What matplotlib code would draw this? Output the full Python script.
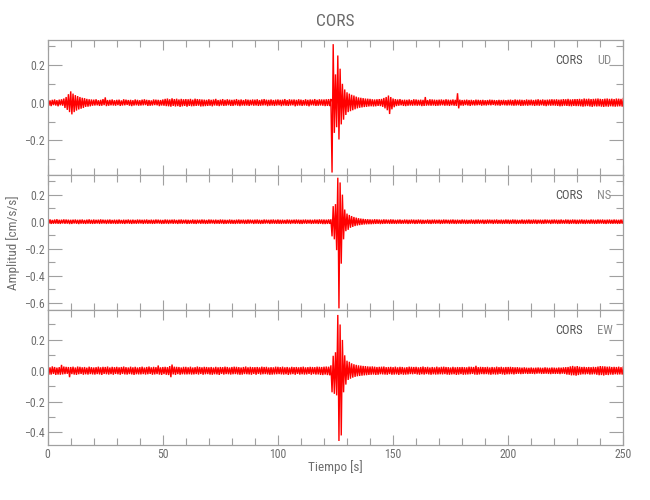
import numpy as np
import matplotlib
matplotlib.use("Agg")
import matplotlib.pyplot as plt
from matplotlib.ticker import MultipleLocator, FuncFormatter

plt.rcParams['font.family'] = ['Roboto Condensed', 'Roboto', 'DejaVu Sans']

station = "CORS"
components = ["UD", "NS", "EW"]
dt = 0.5
scale = 0.001  # values below are in 1e-3 cm/s/s

ud = [
 14,-16,12,-18,15,-13,17,-15,13,-19,16,-14,18,-16,22,-28,30,-38,45,-50,
 60,-62,48,-50,40,-42,35,-36,30,-32,26,-28,24,-22,20,-21,18,-19,17,-16,
 16,-15,18,-14,13,-17,15,-16,19,-13,28,-18,14,-16,15,-14,17,-15,13,-16,
 15,-13,16,-17,12,-15,18,-14,16,-12,14,-16,15,-18,13,-15,17,-14,15,-16,
 13,-15,16,-14,18,-13,15,-17,14,-16,12,-15,17,-13,16,-14,15,-18,14,-15,
 17,-16,20,-18,22,-19,18,-21,23,-17,19,-20,21,-18,17,-22,20,-19,18,-17,
 19,-21,18,-17,20,-19,16,-18,21,-17,19,-16,18,-20,17,-19,16,-18,15,-17,
 18,-16,15,-19,17,-15,20,-16,14,-18,16,-15,19,-17,15,-16,18,-14,16,-17,
 15,-17,16,-14,19,-16,15,-18,17,-15,14,-16,18,-15,16,-17,15,-14,17,-16,
 16,-15,18,-17,14,-16,17,-15,19,-14,16,-18,15,-16,17,-15,14,-17,16,-15,
 17,-14,15,-18,16,-15,19,-16,14,-17,18,-15,16,-14,17,-19,15,-16,18,-15,
 16,-17,14,-15,18,-16,15,-19,17,-14,16,-15,19,-17,15,-16,18,-15,17,-16,
 17,-18,18,-17,19,-18,20,-370,310,-160,150,-130,250,-195,180,-115,100,-90,70,-65,
 55,-50,48,-45,42,-40,38,-35,32,-30,28,-27,26,-25,24,-23,22,-22,21,-20,
 20,-19,18,-20,17,-19,18,-17,19,-18,20,-22,25,-30,30,-40,38,-60,30,-35,
 22,-24,19,-18,17,-16,19,-14,15,-17,16,-18,15,-16,17,-15,14,-16,18,-15,
 17,-16,15,-15,16,-18,15,-17,30,-16,14,-15,18,-16,17,-15,16,-17,15,-16,
 16,-15,17,-14,15,-16,18,-15,16,-17,15,-14,17,-16,15,-17,50,-30,16,-15,
 14,-16,15,-13,16,-15,14,-17,15,-14,13,-15,16,-14,15,-13,14,-16,15,-14,
 13,-15,14,-13,16,-14,15,-12,14,-15,13,-14,15,-16,14,-13,15,-14,13,-15,
 15,-14,16,-15,14,-16,17,-15,15,-14,16,-17,15,-16,14,-15,17,-16,15,-14,
 16,-15,14,-17,16,-15,18,-16,15,-14,17,-16,15,-18,16,-15,17,-16,18,-15,
 17,-16,18,-17,16,-19,17,-18,19,-16,18,-17,20,-18,17,-19,18,-17,19,-18,
 19,-18,20,-19,18,-21,22,-19,20,-18,21,-20,19,-22,20,-19,21,-20,22,-19,
 20,-21,19,-22,21,-20,22,-21,20,-19,21,-20,19,-21,22,-20,21,-19,20,-21,22,
]

ns = [
 15,-14,17,-16,13,-15,16,-14,18,-15,14,-16,15,-13,17,-15,16,-14,15,-17,
 14,-16,15,-13,16,-15,14,-17,15,-14,16,-15,13,-16,15,-14,17,-15,14,-16,
 16,-15,14,-13,15,-16,17,-14,15,-13,14,-16,15,-14,16,-15,13,-14,15,-16,
 14,-15,16,-14,13,-15,15,-16,14,-13,16,-15,14,-16,15,-14,13,-15,16,-14,
 15,-13,14,-16,15,-14,16,-15,13,-14,15,-16,14,-15,16,-13,15,-14,14,-16,
 13,-15,16,-14,15,-16,14,-13,15,-15,16,-14,13,-16,15,-14,16,-15,14,-13,
 15,-16,14,-15,13,-14,16,-15,14,-16,15,-13,14,-15,16,-14,15,-16,13,-15,
 16,-14,15,-13,14,-16,15,-14,13,-15,16,-14,15,-16,14,-15,13,-14,16,-15,
 14,-15,13,-16,15,-14,16,-15,14,-13,15,-16,14,-15,16,-14,15,-13,14,-16,
 15,-14,16,-15,14,-16,13,-15,16,-14,15,-13,14,-16,15,-14,16,-15,14,-15,
 16,-15,14,-16,15,-14,13,-15,16,-14,15,-16,14,-13,15,-15,16,-14,15,-16,
 14,-16,15,-14,16,-15,14,-13,15,-16,14,-15,16,-14,15,-16,17,-15,16,-17,
 16,-17,15,-16,17,-16,18,-108,115,-130,130,-210,325,-640,290,-310,200,-130,90,-70,
 60,-60,50,-45,42,-38,35,-32,30,-28,26,-25,23,-22,21,-20,19,-19,18,-18,
 17,-18,16,-17,18,-16,17,-15,16,-17,15,-16,17,-15,16,-14,15,-16,17,-15,
 16,-15,14,-16,15,-14,16,-15,13,-15,16,-14,15,-16,14,-15,16,-14,15,-16,
 14,-15,16,-14,15,-16,14,-15,13,-14,16,-15,14,-16,15,-14,16,-15,14,-13,
 15,-16,14,-15,16,-14,15,-13,14,-16,15,-14,16,-15,14,-16,15,-14,13,-15,
 16,-14,15,-16,14,-15,13,-14,16,-15,14,-16,15,-14,16,-15,14,-13,15,-16,
 14,-15,16,-14,15,-13,14,-16,15,-14,16,-15,13,-14,15,-16,14,-15,16,-14,
 15,-16,14,-15,16,-14,15,-16,14,-15,13,-14,16,-15,14,-16,15,-14,16,-15,
 14,-15,16,-14,15,-16,14,-13,15,-16,14,-15,16,-14,15,-13,14,-16,15,-14,
 16,-14,15,-16,14,-15,16,-14,13,-15,16,-14,15,-16,14,-15,16,-14,15,-16,
 14,-16,15,-14,16,-15,14,-16,15,-14,13,-15,16,-14,15,-16,14,-15,16,-14,
 15,-14,16,-15,14,-16,15,-14,16,-15,14,-15,16,-14,15,-16,14,-15,16,-14,15,
]

ew = [
 40,-26,22,-25,28,-21,24,-27,20,-25,23,-26,38,-24,27,-22,25,-20,24,-42,
 24,-22,26,-25,21,-27,27,-23,25,-21,22,-26,24,-23,20,-25,26,-22,23,-24,
 21,-25,23,-22,26,-24,22,-27,25,-21,24,-23,27,-25,21,-22,25,-26,23,-21,
 25,-23,22,-26,24,-21,27,-24,23,-25,21,-22,26,-24,22,-27,25,-23,21,-24,
 23,-24,26,-22,21,-25,24,-23,27,-21,22,-26,25,-24,23,-22,34,-25,22,-27,
 24,-22,25,-26,23,-28,30,-42,40,-24,26,-27,25,-22,24,-26,21,-23,25,-24,
 25,-24,22,-23,26,-25,21,-24,23,-22,27,-25,24,-21,22,-26,25,-23,24,-22,
 22,-25,24,-26,21,-23,25,-24,22,-27,24,-21,23,-25,26,-22,24,-23,21,-25,
 24,-23,26,-22,25,-24,23,-26,21,-25,24,-22,27,-23,22,-24,25,-26,23,-21,
 23,-26,24,-21,22,-25,26,-23,24,-22,25,-24,21,-26,23,-25,22,-24,26,-23,
 25,-22,23,-24,26,-25,22,-23,24,-27,21,-24,25,-22,23,-26,24,-21,22,-25,
 24,-23,26,-25,22,-24,23,-21,25,-26,24,-22,23,-25,26,-24,25,-27,24,-28,
 26,-25,27,-28,26,-30,35,-140,97,-150,120,-160,362,-456,300,-420,200,-140,100,-90,
 65,-60,58,-52,48,-45,42,-40,38,-36,35,-34,33,-32,31,-30,30,-29,28,-27,
 27,-26,28,-25,26,-27,24,-26,25,-23,26,-24,27,-25,23,-26,24,-22,25,-26,
 23,-25,26,-24,22,-27,25,-23,24,-26,21,-25,23,-24,26,-22,25,-23,24,-21,
 25,-24,22,-26,24,-23,27,-25,23,-22,25,-24,21,-26,24,-23,22,-25,26,-24,
 22,-23,25,-24,26,-22,24,-25,23,-26,21,-24,25,-23,22,-27,24,-25,23,-22,
 24,-26,23,-25,22,-24,26,-23,25,-21,24,-25,32,-26,23,-24,25,-22,24,-23,
 23,-22,25,-24,21,-26,24,-23,22,-25,26,-24,23,-21,25,-24,22,-26,24,-23,
 24,-23,25,-22,23,-24,22,-21,23,-20,21,-22,20,-21,22,-19,20,-21,19,-20,
 21,-20,19,-22,20,-19,21,-18,20,-21,19,-20,22,-19,20,-21,19,-22,21,-20,
 20,-21,19,-20,21,-22,20,-19,22,-21,23,-25,24,-26,28,-30,31,-29,27,-32,
 30,-28,26,-25,24,-23,25,-24,23,-22,24,-25,23,-24,25,-23,24,-26,27,-29,
 30,-28,29,-31,28,-27,26,-28,27,-25,24,-26,25,-23,24,-25,26,-24,23,-25,24,
]

traces = [ud, ns, ew]
ylims = [(-0.383, 0.332), (-0.652, 0.345), (-0.482, 0.394)]
x_range = (0, 250)

frame_col = '#a0a0a0'
label_col = '#6e6e6e'

fig = plt.figure(figsize=(6.5, 5.0), dpi=100)
L, R = 47.7 / 650, 623.3 / 650
edges_px = [40, 175, 310, 445]

def minus_fmt(v, pos):
    if abs(v) < 1e-9:
        v = 0.0
    s = "%.1f" % v
    return s.replace('-', '\u2212')

for i, (comp, tr, yl) in enumerate(zip(components, traces, ylims)):
    top, bot = edges_px[i], edges_px[i + 1]
    ax = fig.add_axes([L, 1 - bot / 500, R - L, (bot - top) / 500])
    vals = np.array(tr, dtype=float) * scale
    t = np.arange(len(vals)) * dt
    ax.plot(t, vals, color='#ff0000', lw=1.0, solid_joinstyle='miter')
    ax.set_xlim(*x_range)
    ax.set_ylim(*yl)
    ax.xaxis.set_major_locator(MultipleLocator(50))
    ax.xaxis.set_minor_locator(MultipleLocator(10))
    ax.yaxis.set_major_locator(MultipleLocator(0.2))
    ax.yaxis.set_minor_locator(MultipleLocator(0.1))
    ax.yaxis.set_major_formatter(FuncFormatter(minus_fmt))
    ax.tick_params(which='both', direction='in', top=True, right=True,
                   color=frame_col, labelcolor=label_col, labelsize=8.5, width=0.8, pad=2)
    ax.tick_params(axis='y', which='major', length=10)
    ax.tick_params(axis='y', which='minor', length=5)
    ax.tick_params(axis='x', which='major', length=7)
    ax.tick_params(axis='x', which='minor', length=5)
    if i < 2:
        ax.tick_params(axis='x', labelbottom=False)
    for sp in ax.spines.values():
        sp.set_color(frame_col)
        sp.set_linewidth(0.9)
    ax.text(0.930, 0.845, station, transform=ax.transAxes, ha='right', va='center',
            fontsize=9, color='#555555')
    ax.text(0.954, 0.845, comp, transform=ax.transAxes, ha='left', va='center',
            fontsize=9, color='#8a8a8a')

fig.text(335.5 / 650, 1 - 21.5 / 500, station, ha='center', va='center',
         fontsize=12.5, color='#6a6a6a')
fig.text(335.5 / 650, 1 - 467 / 500, "Tiempo [s]", ha='center', va='center',
         fontsize=9.5, color=label_col)
fig.text(13 / 650, 1 - 242.5 / 500, "Amplitud [cm/s/s]", ha='center', va='center',
         rotation=90, fontsize=9.5, color=label_col)

fig.savefig("out.png", dpi=100)
